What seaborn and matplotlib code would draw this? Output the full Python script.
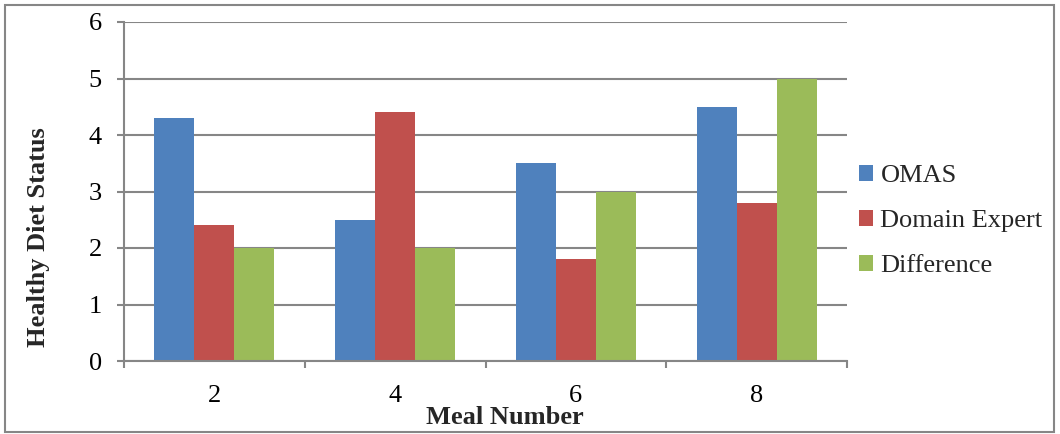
import matplotlib
matplotlib.use("Agg")
import matplotlib.pyplot as plt
from matplotlib.patches import Rectangle
from matplotlib.ticker import FixedLocator
import seaborn as sns
import pandas as pd

meals = ["2", "4", "6", "8"]
series = ["OMAS", "Domain Expert", "Difference"]
omas = [4.3, 2.5, 3.5, 4.5]
expert = [2.4, 4.4, 1.8, 2.8]
difference = [2.0, 2.0, 3.0, 5.0]
colors = ["#4F81BD", "#C0504D", "#9BBB59"]

df = pd.DataFrame({
    "Meal Number": meals * 3,
    "Series": [s for s in series for _ in meals],
    "Value": omas + expert + difference,
})

sns.set_theme(style="white")
plt.rcParams["font.family"] = ["Liberation Serif", "DejaVu Serif"]

fs = 19
fig = plt.figure(figsize=(10.6, 4.34), dpi=100)
ax = fig.add_axes([124 / 1060, 1 - 361 / 434, (847 - 124) / 1060, (361 - 22) / 434])

sns.barplot(data=df, x="Meal Number", y="Value", hue="Series", order=meals,
            hue_order=series, palette=colors, width=0.663, gap=0,
            saturation=1, edgecolor="none", ax=ax)

grid_c = "#868686"
ax.set_xlim(-0.5, len(meals) - 0.5)
ax.set_ylim(0, 6)
ax.set_yticks(range(0, 7))
ax.yaxis.grid(True, color=grid_c, linewidth=1.5)
ax.set_axisbelow(True)
for side in ("top", "right"):
    ax.spines[side].set_visible(False)
for side in ("left", "bottom"):
    ax.spines[side].set_color(grid_c)
    ax.spines[side].set_linewidth(1.5)

ax.xaxis.set_minor_locator(FixedLocator([i - 0.5 for i in range(len(meals) + 1)]))
ax.tick_params(axis="x", which="major", length=0, pad=17, labelsize=fs, colors="black")
ax.tick_params(axis="x", which="minor", bottom=True, length=5, width=1.5, color=grid_c, direction="out")
ax.tick_params(axis="y", which="major", left=True, length=5, width=1.5, color=grid_c,
               direction="out", pad=11, labelsize=fs, labelcolor="black")

ax.set_xlabel("Meal Number", fontsize=fs, fontweight="bold")
ax.xaxis.set_label_coords(0.527, -0.133)
ax.set_ylabel("Healthy Diet Status", fontsize=fs, fontweight="bold")
ax.yaxis.set_label_coords(-0.103, 0.366)

handles, labels = ax.get_legend_handles_labels()
ax.legend(handles, labels, loc="center left", bbox_to_anchor=(1.0166, 0.412),
          borderaxespad=0, borderpad=0,
          frameon=False, fontsize=fs, handlelength=0.53, handleheight=0.53,
          handletextpad=0.28, labelspacing=0.87)

fig.patches.append(Rectangle((5 / 1060, 2 / 434), 1049 / 1060, 427 / 434,
                             transform=fig.transFigure, fill=False,
                             edgecolor=grid_c, linewidth=1.5))

fig.savefig("out.png", dpi=100)
